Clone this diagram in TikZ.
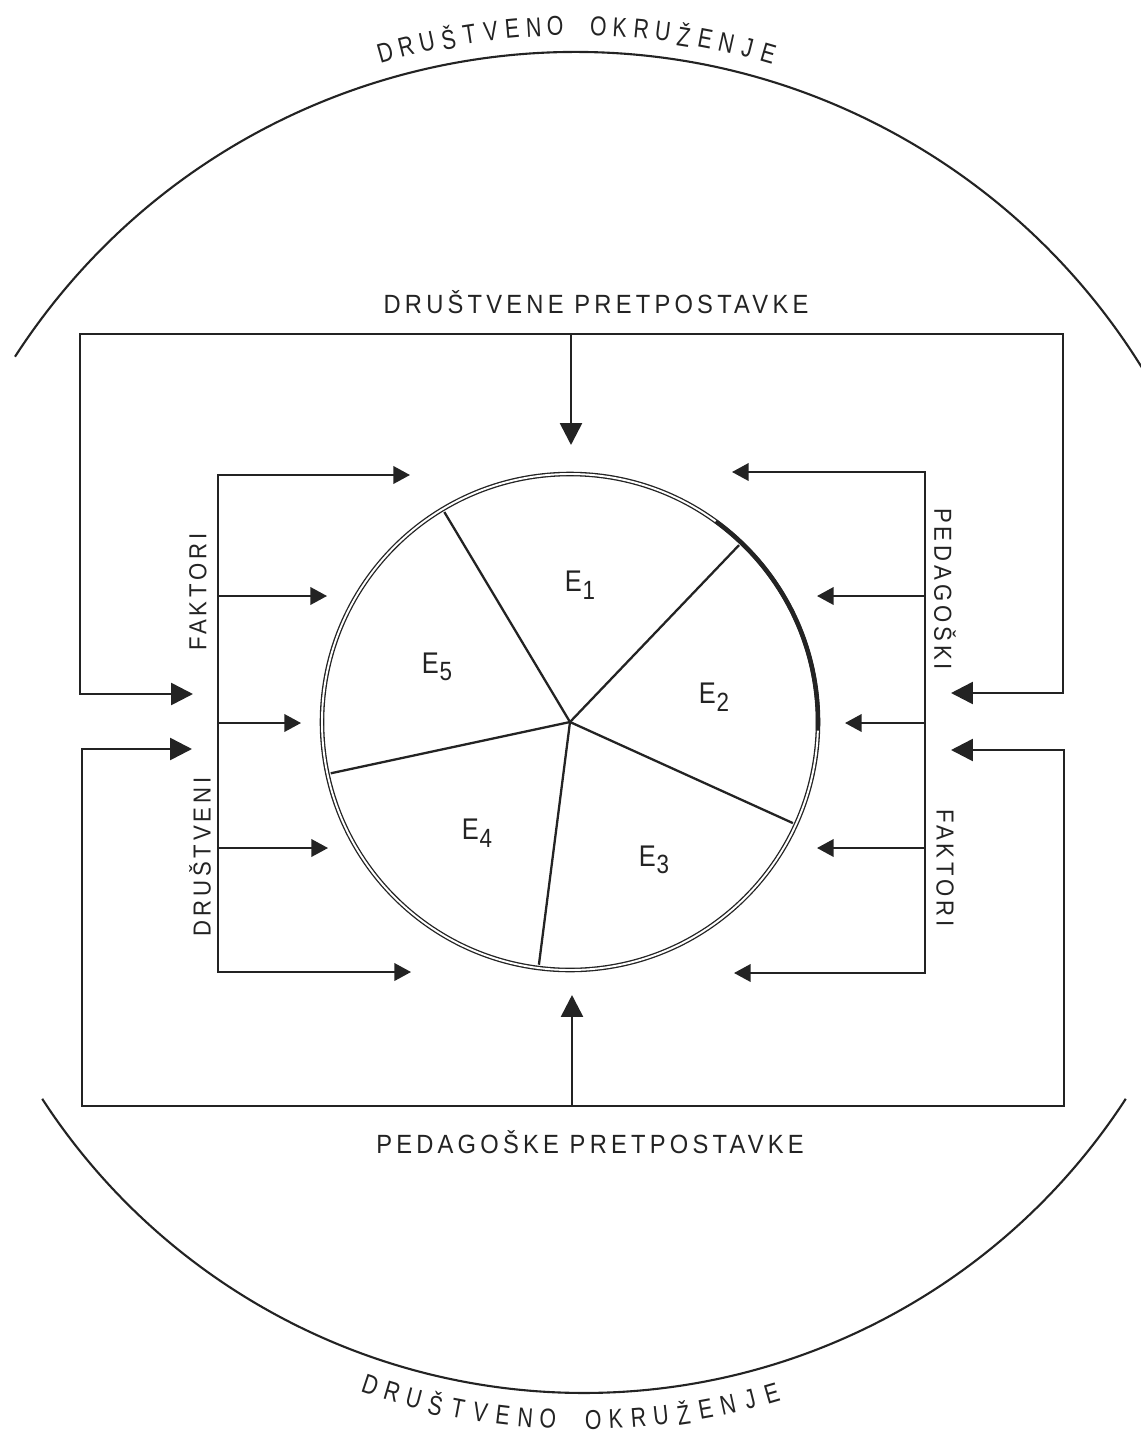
\documentclass[tikz,border=0pt]{standalone}
\usepackage{fontspec}
\setmainfont{Liberation Sans}
\newfontfamily\lbl[LetterSpace=16,FakeStretch=0.9]{Liberation Sans}
\newfontfamily\arcfont[FakeStretch=0.78]{Liberation Sans}
\newfontfamily\efont[FakeStretch=0.85]{Liberation Sans}
\usetikzlibrary{arrows.meta,calc}
\definecolor{ink}{RGB}{35,35,35}
\newcommand\ESub[1]{E\kern0.5pt\raisebox{-4.3pt}{\fontsize{15}{15}\selectfont #1}}
\begin{document}
\begin{tikzpicture}[x=0.02cm, y=-0.02cm,
  frameline/.style={draw=ink, line width=1.5pt, line join=miter},
  feedline/.style={draw=ink, line width=1.2pt, line join=miter},
  spoke/.style={draw=ink, line width=1.3pt, shorten >=1.3pt},
  ring/.style={draw=ink, line width=0.75pt, double=white, double distance=1.1pt},
  envarc/.style={draw=ink, line width=1.2pt},
  BigTri/.tip={Triangle[length=12.5pt,width=12.5pt]},
  SmTri/.tip={Triangle[length=9.5pt,width=10pt]},
  lab/.style={text=ink, font=\lbl\fontsize{15}{17}\selectfont, inner sep=0pt},
  vlab/.style={text=ink, font=\lbl\fontsize{14}{17}\selectfont, inner sep=0pt},
  elab/.style={text=ink, font=\efont\fontsize{17}{19}\selectfont, inner sep=0pt},
  arclet/.style={text=ink, font=\arcfont\fontsize{15.5}{19}\selectfont, inner sep=0pt, anchor=center},
]
\useasboundingbox (0,0) rectangle (1140,1437);
\fill[white] (0,0) rectangle (1140,1437);

% environment arcs
\draw[envarc] (15.0,356.7) arc[start angle=212.9, end angle=328.4, radius=667];
\draw[envarc] (42.2,1098.8) arc[start angle=147, end angle=33, radius=646];

% curved texts (letter by letter)
\coordinate (topc) at (575,719);
\coordinate (botc) at (584,747);
\foreach \ch/\k in {D/0,R/1,U/2,Š/3,T/4,V/5,E/6,N/7,O/8,O/10,K/11,R/12,U/13,Ž/14,E/15,N/16,J/17,E/18}{
  \pgfmathsetmacro{\ta}{254.1+\k*1.783}
  \pgfmathsetmacro{\tr}{-\ta-90}
  \node[arclet, rotate=\tr] (ta\k) at ($(topc)+(\ta:693)$) {\ch};
  \pgfmathsetmacro{\ba}{108.5-\k*1.928}
  \pgfmathsetmacro{\br}{90-\ba}
  \node[arclet, rotate=\br] (ba\k) at ($(botc)+(\ba:673)$) {\ch};
}

% outer frame coordinates
\coordinate (tl) at (80,334);
\coordinate (tr) at (1063,334);
\coordinate (bl) at (82,1106);
\coordinate (br) at (1064,1106);
\coordinate (tm) at (571,334);
\coordinate (tmt) at (571,445);
\coordinate (bm) at (572,1106);
\coordinate (bmt) at (572,995);
\coordinate (lo1) at (80,694);
\coordinate (lo1t) at (193,694);
\coordinate (ro1) at (1063,693);
\coordinate (ro1t) at (951,693);
\coordinate (lo2) at (82,749);
\coordinate (lo2t) at (192,749);
\coordinate (ro2) at (1064,750);
\coordinate (ro2t) at (951,750);

\draw[frameline, {BigTri}-{BigTri}] (lo1t) -- (lo1) -- (tl) -- (tr) -- (ro1) -- (ro1t);
\draw[frameline, -{BigTri}] (tm) -- (tmt);
\draw[frameline, {BigTri}-{BigTri}] (lo2t) -- (lo2) -- (bl) -- (br) -- (ro2) -- (ro2t);
\draw[frameline, -{BigTri}] (bm) -- (bmt);

% inner left
\coordinate (lit) at (218,475);
\coordinate (lib) at (218,972);
\coordinate (lj2) at (218,596);
\coordinate (lj3) at (218,723);
\coordinate (lj4) at (218,848);
\coordinate (li1) at (410,475);
\coordinate (li2) at (327,596);
\coordinate (li3) at (301,723);
\coordinate (li4) at (328,848);
\coordinate (li5) at (411,972);
\draw[feedline, {SmTri}-{SmTri}] (li1) -- (lit) -- (lib) -- (li5);
\draw[feedline, -{SmTri}] (lj2) -- (li2);
\draw[feedline, -{SmTri}] (lj3) -- (li3);
\draw[feedline, -{SmTri}] (lj4) -- (li4);

% inner right
\coordinate (rit) at (925,472);
\coordinate (rib) at (925,973);
\coordinate (rj2) at (925,596);
\coordinate (rj3) at (925,723);
\coordinate (rj4) at (925,848);
\coordinate (ri1) at (732,472);
\coordinate (ri2) at (817,596);
\coordinate (ri3) at (845,723);
\coordinate (ri4) at (817,848);
\coordinate (ri5) at (734,973);
\draw[feedline, {SmTri}-{SmTri}] (ri1) -- (rit) -- (rib) -- (ri5);
\draw[feedline, -{SmTri}] (rj2) -- (ri2);
\draw[feedline, -{SmTri}] (rj3) -- (ri3);
\draw[feedline, -{SmTri}] (rj4) -- (ri4);

% pie
\coordinate (pc) at (570,722);
\foreach \a in {239.1,313.7,24.4,97.3,167.9}
  \draw[spoke] (pc) -- ++(\a:247);
\draw[ring] (pc) circle[radius=248];
\draw[draw=ink, line width=2.3pt] (pc) ++(306:248) arc[start angle=306, end angle=362, radius=248];

% labels
\node[lab] (dp) at (596,302) {DRUŠTVENE PRETPOSTAVKE};
\node[lab] (pp) at (590,1142) {PEDAGOŠKE PRETPOSTAVKE};
\node[vlab, rotate=90] (lf) at (198,592) {FAKTORI};
\node[vlab, rotate=90] (ld) at (200,857) {DRUŠTVENI};
\node[vlab, rotate=-90] (rp) at (945,589) {PEDAGOŠKI};
\node[vlab, rotate=-90] (rf) at (945,868) {FAKTORI};

\node[elab] (e1) at (580,585) {\ESub{1}};
\node[elab] (e2) at (714,697) {\ESub{2}};
\node[elab] (e3) at (654,860) {\ESub{3}};
\node[elab] (e4) at (477,833) {\ESub{4}};
\node[elab] (e5) at (437,667) {\ESub{5}};
\end{tikzpicture}
\end{document}
